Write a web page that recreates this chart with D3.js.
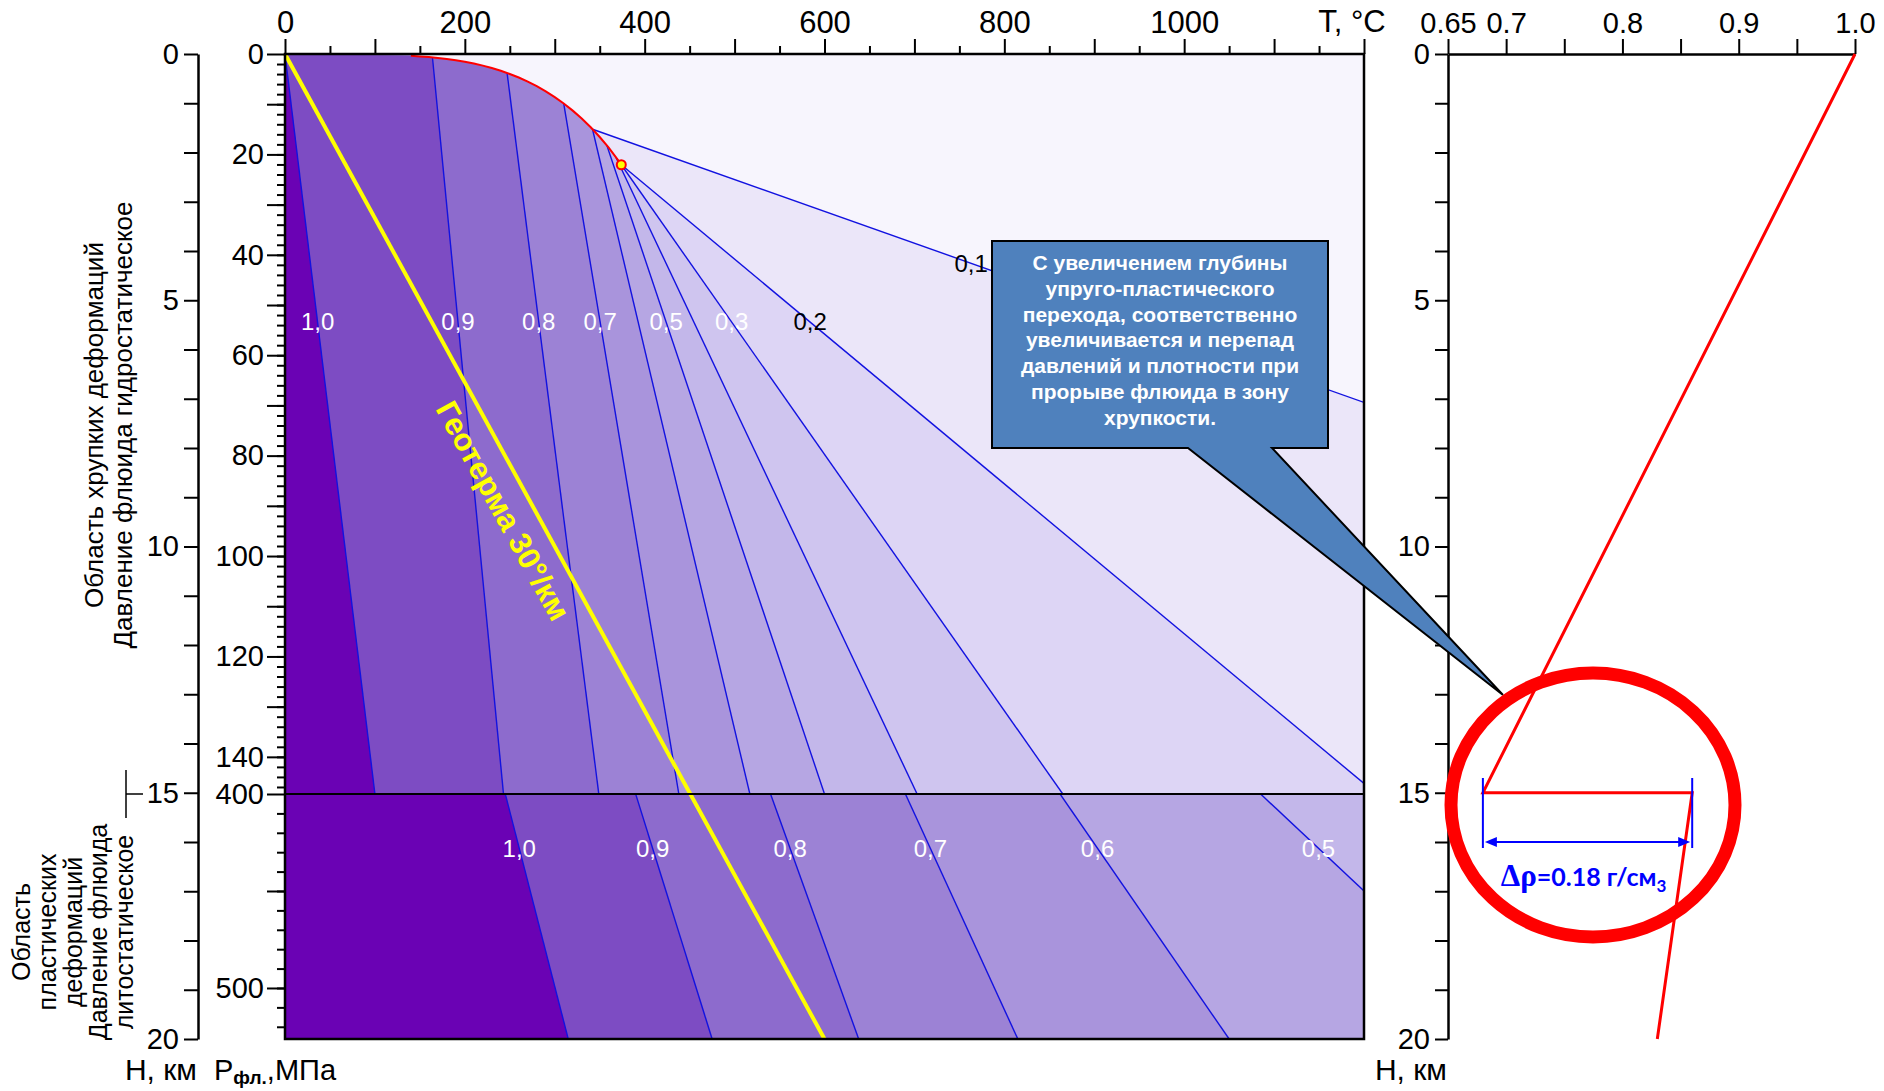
<!DOCTYPE html>
<html>
<head>
<meta charset="utf-8">
<script src="https://cdn.jsdelivr.net/npm/d3@7"></script>
<style>
  body { margin: 0; background: #fff; }
  svg text { font-family: "Liberation Sans", Arial, sans-serif; }
</style>
</head>
<body>
<svg id="chart" width="1884" height="1091"></svg>
<script>
// ---------- data ----------
const tempTickLabels = [0, 200, 400, 600, 800, 1000];
const depthTickLabels = [0, 5, 10, 15, 20];
const pressureTickLabelsUpper = [0, 20, 40, 60, 80, 100, 120, 140];
const pressureTickLabelsLower = [400, 500];
const densityTickLabels = [0.65, 0.7, 0.8, 0.9, 1.0];

// liquid–vapour saturation curve of water (T, °C; P, MPa), ending at the critical point
const saturationT = [140, 150, 160, 170, 180, 190, 200, 210, 220, 230, 240, 250, 260, 270, 280, 290, 300, 310, 320, 330, 340, 350, 360, 370, 374];
const saturationP = [0.36, 0.48, 0.62, 0.79, 1.0, 1.26, 1.55, 1.91, 2.32, 2.8, 3.35, 3.98, 4.69, 5.5, 6.42, 7.44, 8.59, 9.87, 11.28, 12.86, 14.6, 16.53, 18.67, 21.04, 22.06];
const criticalT = 374;

// isochores (g/cm3) in the brittle zone, hydrostatic fluid pressure
const upperDensity = [1.0, 0.9, 0.8, 0.7, 0.6, 0.5, 0.4, 0.3, 0.2, 0.1];
const upperStartT  = [0, 164, 247, 310, 342, 358, 368, 374, 374, 342];
const upperEndT    = [100, 243, 349, 438, 517, 600, 703, 865, 1200, 1200];
const upperEndP    = [147.4, 147.4, 147.4, 147.4, 147.4, 147.4, 147.4, 147.4, 145.3, 69.4];
const upperLabels  = ["1,0", "0,9", "0,8", "0,7", "", "0,5", "", "0,3", "0,2", "0,1"];

// isochores in the plastic zone, lithostatic fluid pressure
const lowerDensity = [1.0, 0.9, 0.8, 0.7, 0.6, 0.5];
const lowerTopT    = [245, 390, 540, 690, 862, 1085];
const lowerEndT    = [315, 475, 638, 815, 1050, 1200];
const lowerEndP    = [526.3, 526.3, 526.3, 526.3, 526.3, 450];
const lowerLabels  = ["1,0", "0,9", "0,8", "0,7", "0,6", "0,5"];

// geotherm 30 °C/km (T, °C; H, km)
const geothermT = [0, 600];
const geothermH = [0, 20];

// fluid density with depth (g/cm3; H, km)
const profileRho = [1.0, 0.68, 0.86, 0.83];
const profileH   = [0, 15, 15, 20];

const calloutLines = [
  "С увеличением глубины",
  "упруго-пластического",
  "перехода, соответственно",
  "увеличивается и перепад",
  "давлений и плотности при",
  "прорыве флюида в зону",
  "хрупкости."
];

// ---------- layout & scales ----------
const svg = d3.select("#chart");
const L = 285, R = 1364, TOP = 54, MID = 794, BOT = 1039;
const H_AXIS_X = 198;
const RL = 1448, RR = 1855;
const P_UP_MAX = 147.4, P_LO_MIN = 400, P_LO_MAX = 526.3;

const x   = d3.scaleLinear().domain([0, 1200]).range([L, R]);
const yH  = d3.scaleLinear().domain([0, 20]).range([TOP, BOT]);
const yPu = d3.scaleLinear().domain([0, P_UP_MAX]).range([TOP, MID]);
const yPl = d3.scaleLinear().domain([P_LO_MIN, P_LO_MAX]).range([MID, BOT]);
const xr  = d3.scaleLinear().domain([0.65, 1.0]).range([RL, RR]);

// band fill for "density at least d"
const bandFill = new Map([
  [0.0, "#f7f5fd"], [0.1, "#ebe6f9"], [0.2, "#ddd5f5"], [0.3, "#cfc5ef"],
  [0.4, "#c3b7ea"], [0.5, "#b6a6e3"], [0.6, "#a994dc"], [0.7, "#9c82d5"],
  [0.8, "#8d6bcd"], [0.9, "#7d4cc3"], [1.0, "#6a02b4"]
]);
const ISO = "#1212e0";

function satP(t) {
  const i = d3.bisectLeft(saturationT, t);
  if (i <= 0) return saturationP[0];
  if (i >= saturationT.length) return saturationP[saturationP.length - 1];
  const t0 = saturationT[i - 1], t1 = saturationT[i];
  return saturationP[i - 1] + (saturationP[i] - saturationP[i - 1]) * (t - t0) / (t1 - t0);
}
function startPoint(t) { return t < saturationT[0] ? [t, 0] : [t, satP(t)]; }

// ---------- clip paths ----------
const defs = svg.append("defs");
defs.append("clipPath").attr("id", "clipUp").append("rect")
  .attr("x", L).attr("y", TOP).attr("width", R - L).attr("height", MID - TOP);
defs.append("clipPath").attr("id", "clipLo").append("rect")
  .attr("x", L).attr("y", MID).attr("width", R - L).attr("height", BOT - MID);

// ---------- brittle zone ----------
const up = svg.append("g").attr("clip-path", "url(#clipUp)");
const lineUp = d3.line().x(d => x(d[0])).y(d => yPu(d[1]));
up.append("rect").attr("x", L).attr("y", TOP).attr("width", R - L).attr("height", MID - TOP)
  .attr("fill", bandFill.get(0.0));

const upperIdx = d3.range(upperDensity.length).sort((a, b) => upperDensity[a] - upperDensity[b]);
upperIdx.forEach(i => {
  const s = startPoint(upperStartT[i]);
  const pts = [[0, 0]];
  saturationT.forEach((t, k) => { if (t < upperStartT[i]) pts.push([t, saturationP[k]]); });
  pts.push(s, [upperEndT[i], upperEndP[i]]);
  if (upperEndT[i] >= 1200 && upperEndP[i] < P_UP_MAX) pts.push([1200, P_UP_MAX]);
  pts.push([0, P_UP_MAX]);
  up.append("path").attr("d", lineUp(pts) + "Z").attr("fill", bandFill.get(upperDensity[i]));
});
upperDensity.forEach((d, i) => {
  up.append("path").attr("d", lineUp([startPoint(upperStartT[i]), [upperEndT[i], upperEndP[i]]]))
    .attr("fill", "none").attr("stroke", ISO).attr("stroke-width", 1.4);
});
// saturation curve
up.append("path")
  .attr("d", lineUp(saturationT.map((t, k) => [t, saturationP[k]])))
  .attr("fill", "none").attr("stroke", "#ff0000").attr("stroke-width", 2);

// ---------- plastic zone ----------
const lo = svg.append("g").attr("clip-path", "url(#clipLo)");
const lineLo = d3.line().x(d => x(d[0])).y(d => yPl(d[1]));
lo.append("rect").attr("x", L).attr("y", MID).attr("width", R - L).attr("height", BOT - MID)
  .attr("fill", bandFill.get(0.4));
const lowerIdx = d3.range(lowerDensity.length).sort((a, b) => lowerDensity[a] - lowerDensity[b]);
lowerIdx.forEach(i => {
  const pts = [[0, P_LO_MIN], [lowerTopT[i], P_LO_MIN], [lowerEndT[i], lowerEndP[i]]];
  if (lowerEndT[i] >= 1200 && lowerEndP[i] < P_LO_MAX) pts.push([1200, P_LO_MAX]);
  pts.push([0, P_LO_MAX]);
  lo.append("path").attr("d", lineLo(pts) + "Z").attr("fill", bandFill.get(lowerDensity[i]));
});
lowerDensity.forEach((d, i) => {
  lo.append("path").attr("d", lineLo([[lowerTopT[i], P_LO_MIN], [lowerEndT[i], lowerEndP[i]]]))
    .attr("fill", "none").attr("stroke", ISO).attr("stroke-width", 1.4);
});

// ---------- isochore labels ----------
const LABEL_P_UP = 53.4, LABEL_T_SHALLOW = 763, LABEL_P_LO = 428;
upperDensity.forEach((d, i) => {
  if (!upperLabels[i]) return;
  const s = startPoint(upperStartT[i]);
  let t, p;
  if (upperEndP[i] < 100) {
    t = LABEL_T_SHALLOW;
    p = s[1] + (upperEndP[i] - s[1]) * (t - s[0]) / (upperEndT[i] - s[0]);
  } else {
    p = LABEL_P_UP;
    t = s[0] + (upperEndT[i] - s[0]) * (p - s[1]) / (upperEndP[i] - s[1]);
  }
  svg.append("text").attr("x", x(t)).attr("y", yPu(p)).attr("dy", "0.35em")
    .attr("text-anchor", "middle").attr("font-size", 24)
    .attr("fill", d <= 0.2 ? "#000" : "#fff").text(upperLabels[i]);
});
lowerDensity.forEach((d, i) => {
  const t = lowerTopT[i] + (lowerEndT[i] - lowerTopT[i]) * (LABEL_P_LO - P_LO_MIN) / (lowerEndP[i] - P_LO_MIN);
  svg.append("text").attr("x", x(t)).attr("y", yPl(LABEL_P_LO)).attr("dy", "0.35em")
    .attr("text-anchor", "middle").attr("font-size", 24).attr("fill", "#fff").text(lowerLabels[i]);
});

// ---------- geotherm ----------
svg.append("line")
  .attr("x1", x(geothermT[0])).attr("y1", yH(geothermH[0]))
  .attr("x2", x(geothermT[1])).attr("y2", yH(geothermH[1]))
  .attr("stroke", "#ffff00").attr("stroke-width", 4);
{
  const ang = Math.atan2(yH(geothermH[1]) - yH(geothermH[0]), x(geothermT[1]) - x(geothermT[0]));
  const hMid = 9.0;
  const px = x(hMid * geothermT[1] / geothermH[1]), py = yH(hMid);
  const off = 28;
  const cx = px - off * Math.sin(ang), cy = py + off * Math.cos(ang);
  svg.append("text").attr("transform", `translate(${cx},${cy}) rotate(${ang * 180 / Math.PI})`)
    .attr("text-anchor", "middle").attr("dy", "0.35em")
    .attr("font-size", 31).attr("font-weight", "bold").attr("fill", "#ffff00")
    .text("Геотерма 30°/км");
}

// critical point
svg.append("circle").attr("cx", x(criticalT)).attr("cy", yPu(satP(criticalT))).attr("r", 4.5)
  .attr("fill", "#ffff00").attr("stroke", "#ff0000").attr("stroke-width", 2);

// ---------- frame ----------
svg.append("rect").attr("x", L).attr("y", TOP).attr("width", R - L).attr("height", BOT - TOP)
  .attr("fill", "none").attr("stroke", "#000").attr("stroke-width", 2.5);
svg.append("line").attr("x1", L).attr("x2", R).attr("y1", MID).attr("y2", MID)
  .attr("stroke", "#000").attr("stroke-width", 2);

// ---------- axes ----------
function styleAxis(g, size) {
  g.attr("font-size", size).attr("font-family", '"Liberation Sans", Arial, sans-serif');
  g.selectAll(".tick line").attr("stroke-width", 2);
  g.selectAll(".domain").attr("stroke-width", 2.5);
  g.selectAll("text").attr("fill", "#000");
}
function noDomain(g) { g.select(".domain").remove(); }

// temperature (top)
svg.append("g").attr("transform", `translate(0,${TOP})`)
  .call(d3.axisTop(x).tickValues(d3.range(50, 1200, 100)).tickSize(8).tickFormat(""))
  .call(noDomain).call(g => styleAxis(g, 31));
svg.append("g").attr("transform", `translate(0,${TOP})`)
  .call(d3.axisTop(x).tickValues(d3.range(0, 1201, 100)).tickSize(15).tickPadding(6)
    .tickFormat(d => tempTickLabels.includes(d) ? d : ""))
  .call(noDomain).call(g => styleAxis(g, 31));
svg.append("text").attr("x", 1352).attr("y", 32).attr("text-anchor", "middle")
  .attr("font-size", 31).text("T, °C");

// fluid pressure (upper: hydrostatic, lower: lithostatic)
svg.append("g").attr("transform", `translate(${L},0)`)
  .call(d3.axisLeft(yPu).tickValues(d3.range(2, 147, 2)).tickSize(8).tickFormat(""))
  .call(noDomain).call(g => styleAxis(g, 29));
svg.append("g").attr("transform", `translate(${L},0)`)
  .call(d3.axisLeft(yPu).tickValues(d3.range(0, 141, 10)).tickSize(18).tickPadding(3)
    .tickFormat(d => pressureTickLabelsUpper.includes(d) ? d : ""))
  .call(noDomain).call(g => styleAxis(g, 29));
svg.append("g").attr("transform", `translate(${L},0)`)
  .call(d3.axisLeft(yPl).tickValues(d3.range(410, 526, 10)).tickSize(8).tickFormat(""))
  .call(noDomain).call(g => styleAxis(g, 29));
svg.append("g").attr("transform", `translate(${L},0)`)
  .call(d3.axisLeft(yPl).tickValues([400, 450, 500]).tickSize(18).tickPadding(3)
    .tickFormat(d => pressureTickLabelsLower.includes(d) ? d : ""))
  .call(noDomain).call(g => styleAxis(g, 29));

// depth (left)
svg.append("g").attr("transform", `translate(${H_AXIS_X},0)`)
  .call(d3.axisLeft(yH).tickValues(d3.range(0, 21)).tickSize(14).tickSizeOuter(0).tickPadding(5)
    .tickFormat(d => depthTickLabels.includes(d) ? d : ""))
  .call(g => styleAxis(g, 29));

// density profile panel axes
svg.append("g").attr("transform", `translate(0,${TOP})`)
  .call(d3.axisTop(xr).tickValues([0.65, 0.7, 0.75, 0.8, 0.85, 0.9, 0.95, 1.0]).tickSize(15)
    .tickSizeOuter(0).tickPadding(6)
    .tickFormat(d => densityTickLabels.some(v => Math.abs(v - d) < 1e-9) ? (d === 0.65 ? "0.65" : d3.format(".1f")(d)) : ""))
  .call(g => styleAxis(g, 29));
svg.append("g").attr("transform", `translate(${RL},0)`)
  .call(d3.axisLeft(yH).tickValues(d3.range(0, 21)).tickSize(13).tickSizeOuter(0).tickPadding(5)
    .tickFormat(d => depthTickLabels.includes(d) ? d : ""))
  .call(g => styleAxis(g, 29));

// axis titles at the bottom
svg.append("text").attr("x", 197).attr("y", 1080).attr("text-anchor", "end").attr("font-size", 30).text("H, км");
{
  const t = svg.append("text").attr("x", 214).attr("y", 1080).attr("font-size", 29);
  t.append("tspan").text("P");
  t.append("tspan").attr("font-size", 19).attr("font-weight", "bold").attr("dy", 4).text("фл.");
  t.append("tspan").attr("dy", -4).text(",МПа");
}
svg.append("text").attr("x", 1447).attr("y", 1080).attr("text-anchor", "end").attr("font-size", 30).text("H, км");

// zone captions (rotated)
function rotatedLines(lines, baselines, cy, size) {
  lines.forEach((s, i) => {
    svg.append("text").attr("transform", `translate(${baselines[i]},${cy}) rotate(-90)`)
      .attr("text-anchor", "middle").attr("font-size", size).text(s);
  });
}
rotatedLines(["Область хрупких деформаций", "Давление флюида гидростатическое"], [103, 132], 425, 26);
rotatedLines(["Область", "пластических", "деформаций", "Давление флюида", "литостатическое"],
  [30, 56, 82, 107, 133], 932, 25);
svg.append("line").attr("x1", 126).attr("x2", 143).attr("y1", MID).attr("y2", MID)
  .attr("stroke", "#000").attr("stroke-width", 1.5);
svg.append("line").attr("x1", 126).attr("x2", 126).attr("y1", MID - 24).attr("y2", MID + 24)
  .attr("stroke", "#000").attr("stroke-width", 1.5);

// ---------- callout ----------
{
  const bx0 = 992, by0 = 241, bx1 = 1328, by1 = 448;
  const tip = [1503, 695];
  svg.append("path")
    .attr("d", `M${bx0},${by0}H${bx1}V${by1}H1272L${tip[0]},${tip[1]}L1188,${by1}H${bx0}Z`)
    .attr("fill", "#4f81bd").attr("stroke", "#000").attr("stroke-width", 2).attr("stroke-linejoin", "miter");
  calloutLines.forEach((s, i) => {
    svg.append("text").attr("x", (bx0 + bx1) / 2).attr("y", 270 + i * 25.8)
      .attr("text-anchor", "middle").attr("font-size", 21).attr("font-weight", "bold")
      .attr("fill", "#fff").text(s);
  });
}

// ---------- density profile ----------
svg.append("path")
  .attr("d", d3.line().x(d => xr(d[0])).y(d => yH(d[1]))(profileRho.map((r, i) => [r, profileH[i]])))
  .attr("fill", "none").attr("stroke", "#ff0000").attr("stroke-width", 3);

// density jump dimension
{
  const xa = xr(profileRho[1]), xb = xr(profileRho[2]);
  const blue = "#0000ff";
  [xa, xb].forEach(v => svg.append("line").attr("x1", v).attr("x2", v).attr("y1", 778).attr("y2", 848)
    .attr("stroke", blue).attr("stroke-width", 2));
  const ay = 842;
  svg.append("line").attr("x1", xa + 10).attr("x2", xb - 10).attr("y1", ay).attr("y2", ay)
    .attr("stroke", blue).attr("stroke-width", 2);
  svg.append("path").attr("d", `M${xa + 2},${ay}l12,-5v10Z`).attr("fill", blue);
  svg.append("path").attr("d", `M${xb - 2},${ay}l-12,-5v10Z`).attr("fill", blue);
  const t = svg.append("text").attr("x", (xa + xb) / 2 - 4).attr("y", 886).attr("text-anchor", "middle")
    .attr("fill", blue).attr("font-weight", "bold").attr("font-size", 25)
    .style("font-family", "Lato, 'Liberation Sans', sans-serif");
  t.append("tspan").style("font-family", "'Liberation Serif', serif").attr("font-size", 31)
    .text("Δρ");
  t.append("tspan").text("=" + (profileRho[2] - profileRho[1]).toFixed(2) + " г/см");
  t.append("tspan").attr("font-size", 17).attr("dy", 6).text("3");
}
// highlight ring
svg.append("ellipse").attr("cx", 1593).attr("cy", 805).attr("rx", 142).attr("ry", 132)
  .attr("fill", "none").attr("stroke", "#ff0000").attr("stroke-width", 13);
</script>
</body>
</html>
